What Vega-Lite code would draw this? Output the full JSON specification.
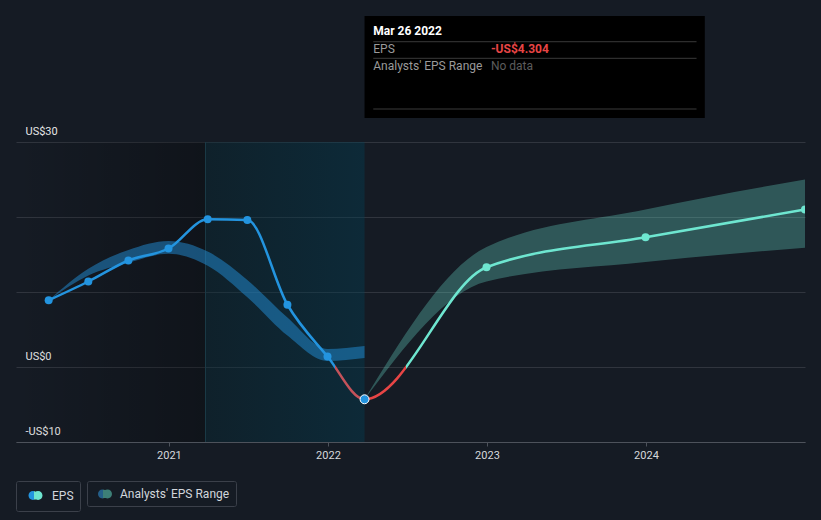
{
  "$schema": "https://vega.github.io/schema/vega-lite/v6.json",
  "width": 789,
  "height": 300,
  "autosize": {"type": "none"},
  "padding": {"left": 16, "top": 142, "right": 16, "bottom": 78},
  "background": "#151b24",
  "config": {
    "view": {"stroke": null},
    "font": "Roboto",
    "axisX": {"domainColor": "#4d525b", "tickColor": "#4d525b", "tickSize": 4, "labelColor": "#d5d8dc", "labelFontSize": 11, "labelFont": "Roboto", "grid": false, "labelPadding": 3},
    "axisY": {"grid": true, "gridColor": "#30353e", "domain": false, "ticks": false, "tickSize": 0, "labelAlign": "left", "labelBaseline": "alphabetic", "labelPadding": -9, "labelOffset": -8, "labelColor": "#e6e6e6", "labelFontSize": 11, "labelFont": "Roboto"},
    "legend": {"orient": "none", "title": null, "padding": 6, "strokeColor": "#3b404a", "cornerRadius": 2, "labelColor": "#d2d6dc", "labelFontSize": 12, "labelFont": "Roboto", "labelOffset": 8, "symbolOffset": 5, "symbolSize": 196, "symbolOpacity": 1, "symbolStrokeColor": "transparent", "symbolStrokeWidth": 0}
  },
  "datasets": {
    "eps": [
      {"date": "2020-03-31", "eps": 8.9, "phase": "actual"},
      {"date": "2020-06-30", "eps": 11.4, "phase": "actual"},
      {"date": "2020-09-30", "eps": 14.2, "phase": "actual"},
      {"date": "2020-12-31", "eps": 15.8, "phase": "actual"},
      {"date": "2021-03-31", "eps": 19.7, "phase": "actual"},
      {"date": "2021-06-30", "eps": 19.6, "phase": "actual"},
      {"date": "2021-09-30", "eps": 8.3, "phase": "actual"},
      {"date": "2021-12-31", "eps": 1.4, "phase": "actual"},
      {"date": "2022-03-26", "eps": -4.304, "phase": "latest"},
      {"date": "2022-12-31", "eps": 13.3, "phase": "forecast"},
      {"date": "2023-12-31", "eps": 17.3, "phase": "forecast"},
      {"date": "2024-12-31", "eps": 21.0, "phase": "forecast"}
    ],
    "pastRange": [
      {"date": "2020-03-31", "low": 8.9, "high": 8.9},
      {"date": "2020-06-30", "low": 12.2, "high": 13.1},
      {"date": "2020-09-30", "low": 13.9, "high": 15.6},
      {"date": "2020-12-31", "low": 15.1, "high": 16.8},
      {"date": "2021-03-31", "low": 13.5, "high": 15.4},
      {"date": "2021-06-30", "low": 9.3, "high": 11.6},
      {"date": "2021-09-30", "low": 4.2, "high": 6.6},
      {"date": "2021-12-31", "low": 0.8, "high": 2.4},
      {"date": "2022-03-26", "low": 1.2, "high": 2.8}
    ],
    "fcRange": [
      {"date": "2022-03-26", "low": -4.304, "high": -4.304},
      {"date": "2022-12-31", "low": 11.4, "high": 16.0},
      {"date": "2023-12-31", "low": 14.0, "high": 21.0},
      {"date": "2024-12-31", "low": 15.9, "high": 25.0}
    ],
    "periods": [
      {"start": "2020-01-16", "end": "2021-03-26", "kind": "past"},
      {"start": "2021-03-26", "end": "2022-03-26", "kind": "actual"}
    ],
    "tip": [
      {"date": "2022-04-15", "v": 44.8, "text": "Mar 26 2022", "kind": "title"},
      {"date": "2022-04-15", "v": 42.4, "text": "EPS", "kind": "label"},
      {"date": "2023-01-10", "v": 42.4, "text": "-US$4.304", "kind": "neg"},
      {"date": "2022-04-15", "v": 40.13, "text": "Analysts' EPS Range", "kind": "label"},
      {"date": "2023-01-10", "v": 40.13, "text": "No data", "kind": "nodata"}
    ],
    "tipSeps": [
      {"start": "2022-04-15", "end": "2024-04-26", "v": 43.37},
      {"start": "2022-04-15", "end": "2024-04-26", "v": 41.16},
      {"start": "2022-04-15", "end": "2024-04-26", "v": 34.4}
    ],
    "tipBox": [
      {"start": "2022-03-26", "end": "2024-05-15", "top": 46.8, "bottom": 33.2}
    ]
  },
  "layer": [
    {
      "data": {"name": "periods"},
      "transform": [{"filter": "datum.kind == 'past'"}],
      "mark": {"type": "rect", "fill": {"gradient": "linear", "x1": 0, "y1": 0, "x2": 1, "y2": 0, "stops": [{"offset": 0, "color": "rgba(0,0,0,0)"}, {"offset": 1, "color": "rgba(0,0,0,0.28)"}]}},
      "encoding": {
        "x": {"field": "start", "type": "temporal", "title": null,
          "scale": {"type": "utc", "domain": [{"year": 2020, "month": 1, "date": 16, "utc": true}, {"year": 2024, "month": 12, "date": 31, "utc": true}]},
          "axis": {"tickCount": {"interval": "year", "step": 1}, "labelExpr": "utcFormat(datum.value, '%Y')"}},
        "x2": {"field": "end"}
      }
    },
    {
      "data": {"name": "periods"},
      "transform": [{"filter": "datum.kind == 'actual'"}],
      "mark": {"type": "rect", "fill": {"gradient": "linear", "x1": 0, "y1": 0, "x2": 1, "y2": 0, "stops": [{"offset": 0, "color": "rgba(6,42,53,0.4)"}, {"offset": 1, "color": "rgba(0,64,86,0.4)"}]}},
      "encoding": {
        "x": {"field": "start", "type": "temporal", "title": null},
        "x2": {"field": "end"}
      }
    },
    {
      "data": {"name": "periods"},
      "transform": [{"filter": "datum.kind == 'actual'"}],
      "mark": {"type": "rule", "color": "#1b3a47", "strokeWidth": 1},
      "encoding": {
        "x": {"field": "start", "type": "temporal", "title": null}
      }
    },
    {
      "data": {"name": "pastRange"},
      "mark": {"type": "area", "interpolate": "monotone", "fill": "#2394df", "fillOpacity": 0.48},
      "encoding": {
        "x": {"field": "date", "type": "temporal", "title": null},
        "y": {"field": "low", "type": "quantitative", "title": null,
          "scale": {"domain": [-10, 30], "nice": false, "zero": false},
          "axis": {"values": [-10, 0, 10, 20, 30], "labelExpr": "datum.value == 30 ? 'US$30' : datum.value == 0 ? 'US$0' : datum.value == -10 ? '-US$10' : ''"}},
        "y2": {"field": "high"}
      }
    },
    {
      "data": {"name": "fcRange"},
      "mark": {"type": "area", "interpolate": "monotone", "fill": "#6ee6d0", "fillOpacity": 0.3, "clip": true},
      "encoding": {
        "x": {"field": "date", "type": "temporal", "title": null},
        "y": {"field": "low", "type": "quantitative", "title": null},
        "y2": {"field": "high"}
      }
    },
    {
      "mark": {"type": "rule", "color": "#ffffff", "strokeWidth": 1.5},
      "encoding": {
        "y": {"datum": 0, "type": "quantitative"},
        "opacity": {"datum": "Analysts' EPS Range", "type": "nominal", "scale": {"range": [1, 1]},
          "legend": {"legendX": 71, "legendY": 339,
            "symbolType": "M-1,0A0.64,0.64,0,1,0,0.28,0A0.64,0.64,0,1,0,-1,0ZM-0.28,0A0.64,0.64,0,1,0,1,0A0.64,0.64,0,1,0,-0.28,0Z",
            "symbolFillColor": {"value": {"gradient": "linear", "x1": 0, "y1": 0, "x2": 1, "y2": 0, "stops": [{"offset": 0, "color": "#245e89"}, {"offset": 0.36, "color": "#245e89"}, {"offset": 0.36, "color": "#3d7f77"}, {"offset": 1, "color": "#3d7f77"}]}}}}
      }
    },
    {
      "mark": {"type": "rule", "color": "#1e4f63", "strokeWidth": 1, "clip": false},
      "encoding": {
        "x": {"datum": {"year": 2022, "month": 3, "date": 26, "utc": true}, "type": "temporal"},
        "y": {"datum": -10, "type": "quantitative"},
        "y2": {"datum": 46.8}
      }
    },
    {
      "data": {"name": "eps"},
      "mark": {"type": "line", "interpolate": "monotone", "clip": true,
        "stroke": {"gradient": "linear", "x1": 0, "y1": 0, "x2": 1, "y2": 0, "stops": [
          {"offset": 0, "color": "#2394df"}, {"offset": 0.3787, "color": "#2394df"},
          {"offset": 0.3787, "color": "#c4525a"}, {"offset": 0.4176, "color": "#c4525a"},
          {"offset": 0.4176, "color": "#e84545"}, {"offset": 0.4728, "color": "#e84545"},
          {"offset": 0.4728, "color": "#6ee6d0"}, {"offset": 1, "color": "#6ee6d0"}]}},
      "encoding": {
        "x": {"field": "date", "type": "temporal", "title": null},
        "y": {"field": "eps", "type": "quantitative", "title": null},
        "strokeWidth": {"datum": "EPS", "type": "nominal", "scale": {"range": [2.5, 2.5]},
          "legend": {"legendX": 0, "legendY": 339,
            "symbolType": "M-1,0A0.64,0.64,0,1,0,0.28,0A0.64,0.64,0,1,0,-1,0ZM-0.28,0A0.64,0.64,0,1,0,1,0A0.64,0.64,0,1,0,-0.28,0Z",
            "symbolFillColor": {"value": {"gradient": "linear", "x1": 0, "y1": 0, "x2": 1, "y2": 0, "stops": [{"offset": 0, "color": "#2394df"}, {"offset": 0.36, "color": "#2394df"}, {"offset": 0.36, "color": "#6ee6d0"}, {"offset": 1, "color": "#6ee6d0"}]}}}}
      }
    },
    {
      "data": {"name": "eps"},
      "transform": [{"filter": "datum.phase == 'actual'"}],
      "mark": {"type": "circle", "color": "#2394df", "size": 64, "opacity": 1},
      "encoding": {
        "x": {"field": "date", "type": "temporal", "title": null},
        "y": {"field": "eps", "type": "quantitative", "title": null}
      }
    },
    {
      "data": {"name": "eps"},
      "transform": [{"filter": "datum.phase == 'forecast'"}],
      "mark": {"type": "circle", "color": "#6ee6d0", "size": 64, "opacity": 1, "clip": true},
      "encoding": {
        "x": {"field": "date", "type": "temporal", "title": null},
        "y": {"field": "eps", "type": "quantitative", "title": null}
      }
    },
    {
      "data": {"name": "eps"},
      "transform": [{"filter": "datum.phase == 'latest'"}],
      "mark": {"type": "point", "shape": "circle", "filled": true, "fill": "#2394df", "stroke": "#ffffff", "strokeWidth": 1, "size": 80, "opacity": 1},
      "encoding": {
        "x": {"field": "date", "type": "temporal", "title": null},
        "y": {"field": "eps", "type": "quantitative", "title": null}
      }
    },
    {
      "mark": {"type": "text", "align": "right", "baseline": "middle", "dx": -8, "color": "#e8eaec", "fontSize": 11, "fontWeight": 500, "font": "Roboto"},
      "encoding": {
        "x": {"datum": {"year": 2022, "month": 3, "date": 26, "utc": true}, "type": "temporal"},
        "y": {"datum": 28.4, "type": "quantitative"},
        "text": {"value": "Actual"}
      }
    },
    {
      "mark": {"type": "text", "align": "left", "baseline": "middle", "dx": 8, "color": "#868c95", "fontSize": 11, "fontWeight": 500, "font": "Roboto"},
      "encoding": {
        "x": {"datum": {"year": 2022, "month": 3, "date": 26, "utc": true}, "type": "temporal"},
        "y": {"datum": 28.4, "type": "quantitative"},
        "text": {"value": "Analysts Forecasts"}
      }
    },
    {
      "data": {"name": "tipBox"},
      "mark": {"type": "rect", "fill": "#000000", "clip": false},
      "encoding": {
        "x": {"field": "start", "type": "temporal", "title": null},
        "x2": {"field": "end"},
        "y": {"field": "top", "type": "quantitative", "title": null},
        "y2": {"field": "bottom"}
      }
    },
    {
      "data": {"name": "tipSeps"},
      "mark": {"type": "rule", "color": "#3a3a3a", "strokeWidth": 1, "clip": false},
      "encoding": {
        "x": {"field": "start", "type": "temporal", "title": null},
        "x2": {"field": "end"},
        "y": {"field": "v", "type": "quantitative", "title": null}
      }
    },
    {
      "data": {"name": "tip"},
      "transform": [{"filter": "datum.kind == 'title'"}],
      "mark": {"type": "text", "align": "left", "baseline": "middle", "color": "#ffffff", "fontSize": 12, "fontWeight": "bold", "font": "Roboto", "clip": false},
      "encoding": {
        "x": {"field": "date", "type": "temporal", "title": null},
        "y": {"field": "v", "type": "quantitative", "title": null},
        "text": {"field": "text"}
      }
    },
    {
      "data": {"name": "tip"},
      "transform": [{"filter": "datum.kind == 'label'"}],
      "mark": {"type": "text", "align": "left", "baseline": "middle", "color": "#9a9a9a", "fontSize": 12, "font": "Roboto", "clip": false},
      "encoding": {
        "x": {"field": "date", "type": "temporal", "title": null},
        "y": {"field": "v", "type": "quantitative", "title": null},
        "text": {"field": "text"}
      }
    },
    {
      "data": {"name": "tip"},
      "transform": [{"filter": "datum.kind == 'neg'"}],
      "mark": {"type": "text", "align": "left", "baseline": "middle", "color": "#e84545", "fontSize": 12, "fontWeight": "bold", "font": "Roboto", "clip": false},
      "encoding": {
        "x": {"field": "date", "type": "temporal", "title": null},
        "y": {"field": "v", "type": "quantitative", "title": null},
        "text": {"field": "text"}
      }
    },
    {
      "data": {"name": "tip"},
      "transform": [{"filter": "datum.kind == 'nodata'"}],
      "mark": {"type": "text", "align": "left", "baseline": "middle", "color": "#5c5c5c", "fontSize": 12, "font": "Roboto", "clip": false},
      "encoding": {
        "x": {"field": "date", "type": "temporal", "title": null},
        "y": {"field": "v", "type": "quantitative", "title": null},
        "text": {"field": "text"}
      }
    }
  ]
}
